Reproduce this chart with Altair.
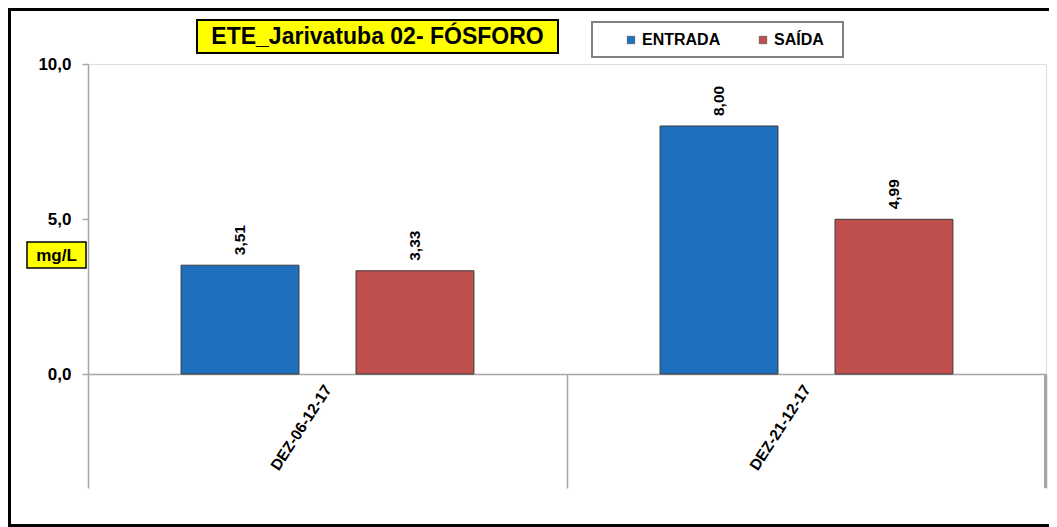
import altair as alt
import pandas as pd

categories = ["DEZ-06-12-17", "DEZ-21-12-17"]
series = ["ENTRADA", "SAÍDA"]
entrada = [3.51, 8.00]
saida = [3.33, 4.99]
y_ticks = [0, 5, 10]
colors = ["#1F6FBF", "#C0504D"]
chart_title = "ETE_Jarivatuba 02- FÓSFORO"
unit_label = "mg/L"

rows = []
for c, e, s in zip(categories, entrada, saida):
    rows.append({"data": c, "serie": series[0], "valor": e})
    rows.append({"data": c, "serie": series[1], "valor": s})
df = pd.DataFrame(rows)
one = pd.DataFrame({"k": [0]})

FONT = "Liberation Sans"
GRAY = "#A6A6A6"

x = alt.X(
    "data:N", sort=categories,
    scale=alt.Scale(paddingInner=0, paddingOuter=0),
    axis=alt.Axis(
        title=None, grid=False, tickBand="extent", tickSize=114, tickColor=GRAY,
        tickWidth=1.5, domainColor=GRAY, domainWidth=1.5, labelAngle=303,
        labelAlign="right", labelBaseline="middle", labelPadding=-102,
        labelFont=FONT, labelFontSize=15.5, labelFontWeight="bold", labelColor="black",
    ),
)
xo = alt.XOffset("serie:N", sort=series,
                 scale=alt.Scale(paddingInner=0.326, paddingOuter=0.532))
y = alt.Y(
    "valor:Q", scale=alt.Scale(domain=[0, 10], nice=False),
    axis=alt.Axis(
        title=None, grid=False, values=y_ticks,
        labelExpr="replace(format(datum.value, '.1f'), '.', ',')",
        tickSize=6, tickColor=GRAY, tickWidth=1.5, domainColor=GRAY, domainWidth=1.5,
        labelPadding=11, labelFont=FONT, labelFontSize=17, labelFontWeight="bold",
        labelColor="black",
    ),
)
color = alt.Color(
    "serie:N", sort=series,
    scale=alt.Scale(domain=series, range=colors),
    legend=alt.Legend(
        title=None, orient="none", legendX=535, legendY=-32, direction="horizontal",
        symbolType="square", symbolSize=56, symbolStrokeWidth=0.5, symbolStrokeColor="#333",
        labelFont=FONT, labelFontSize=16, labelFontWeight="bold", labelColor="black",
        columnPadding=34, labelOffset=3, padding=0,
    ),
)

legend_box = alt.Chart(one).mark_rect(fill="white", stroke="#7F7F7F", strokeWidth=2).encode(
    x=alt.value(504), x2=alt.value(755), y=alt.value(-42), y2=alt.value(-7))

bars = alt.Chart(df).mark_bar(stroke="#3A3A3A", strokeWidth=1).encode(
    x=x, xOffset=xo, y=y, color=color)

# closing separator at the right end of the category axis
end_sep = alt.Chart(one).mark_rect(fill=GRAY).encode(
    x=alt.value(956), x2=alt.value(958), y=alt.value(310), y2=alt.value(424))

labels = alt.Chart(df).transform_calculate(
    txt="replace(format(datum.valor, '.2f'), '.', ',')"
).mark_text(angle=270, align="left", baseline="middle", dx=10, font=FONT,
            fontSize=15.5, fontWeight="bold", color="black").encode(
    x=alt.X("data:N", sort=categories), xOffset=alt.XOffset("serie:N", sort=series),
    y="valor:Q", text="txt:N")

title_box = alt.Chart(one).mark_rect(fill="#FFFF00", stroke="black", strokeWidth=2).encode(
    x=alt.value(109), x2=alt.value(470), y=alt.value(-44), y2=alt.value(-11))
title_text = alt.Chart(one).mark_text(font=FONT, fontSize=23, fontWeight="bold", color="black",
                                      align="center", baseline="middle").encode(
    x=alt.value(289.5), y=alt.value(-27), text=alt.value(chart_title))

unit_box = alt.Chart(one).mark_rect(fill="#FFFF00", stroke="black", strokeWidth=1.5).encode(
    x=alt.value(-61), x2=alt.value(-2), y=alt.value(178), y2=alt.value(204))
unit_text = alt.Chart(one).mark_text(font=FONT, fontSize=17, fontWeight="bold", color="black",
                                     align="center", baseline="middle").encode(
    x=alt.value(-31.5), y=alt.value(191.5), text=alt.value(unit_label))

border = alt.Chart(one).mark_rect(fill=None, stroke="black", strokeWidth=3).encode(
    x=alt.value(-78.5), x2=alt.value(985), y=alt.value(-54.5), y2=alt.value(461.5))

chart = alt.layer(
    border, legend_box, bars, end_sep, labels, title_box, title_text, unit_box, unit_text
).properties(
    width=958, height=310,
    autosize=alt.AutoSizeParams(type="none"),
    padding={"left": 80, "top": 56, "right": 3, "bottom": 153},
).configure_view(stroke=None).configure(background="white")

chart.save("out.html", embed_options={"renderer": "svg", "actions": False})
